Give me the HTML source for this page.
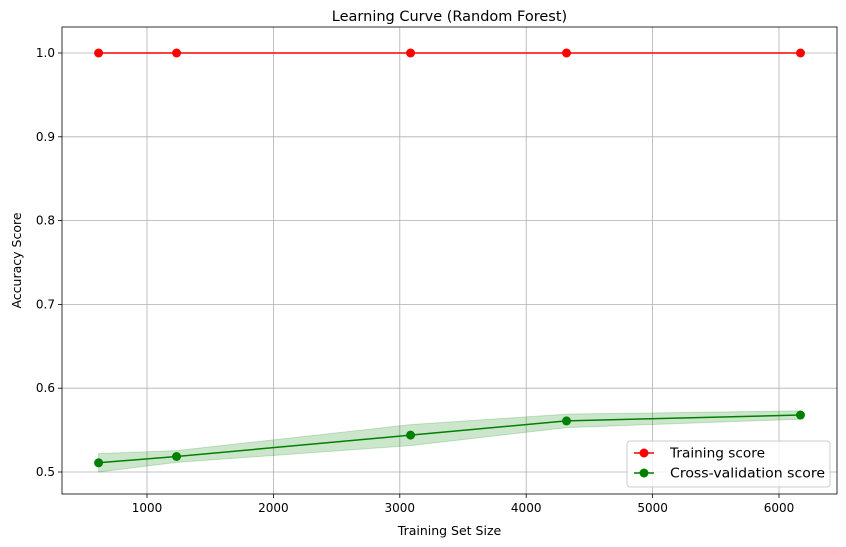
<!DOCTYPE html>
<html><head><meta charset="utf-8"><style>body{margin:0;background:#fff}svg{display:block;font-family:"DejaVu Sans","Liberation Sans",sans-serif}</style></head>
<body>
<svg id="c" width="846" height="547"></svg>
<script>
const sizes=[617,1234,3085,4319,6170];
const trainScores=[1.0,1.0,1.0,1.0,1.0];
const cvScores=[0.511,0.5185,0.544,0.561,0.568];
const cvStd=[0.011,0.007,0.0125,0.008,0.005];
const xTicks=[1000,2000,3000,4000,5000,6000];
const yTicks=[0.5,0.6,0.7,0.8,0.9,1.0];
const L=62,R=837,T=27,B=494;
const X=v=>147+(v-1000)*0.12640;
const Y=v=>472-(v-0.5)*838;
const svg=document.getElementById('c');const NS='http://www.w3.org/2000/svg';
function el(t,a,p){const e=document.createElementNS(NS,t);for(const k in a)e.setAttribute(k,a[k]);(p||svg).appendChild(e);return e;}
el('rect',{x:0,y:0,width:846,height:547,fill:'#fff'});
const grid=el('g',{});


xTicks.forEach(v=>{const x=X(v);el('line',{x1:x,x2:x,y1:T,y2:B,stroke:'#b0b0b0','stroke-width':0.8},grid);
el('line',{x1:x,x2:x,y1:B,y2:B+4,stroke:'#000','stroke-width':0.8});
const t=el('text',{x:x,y:B+18,'text-anchor':'middle','font-size':12});t.textContent=v;

});
yTicks.forEach(v=>{const y=Y(v);el('line',{x1:L,x2:R,y1:y,y2:y,stroke:'#b0b0b0','stroke-width':0.8},grid);
el('line',{x1:L-4,x2:L,y1:y,y2:y,stroke:'#000','stroke-width':0.8});
const t=el('text',{x:L-7,y:y+4,'text-anchor':'end','font-size':12});t.textContent=v.toFixed(1);

});
let up=sizes.map((s,i)=>X(s)+','+Y(cvScores[i]+cvStd[i]));
let lo=sizes.map((s,i)=>X(s)+','+Y(cvScores[i]-cvStd[i])).reverse();
const band=el('polygon',{points:up.concat(lo).join(' '),fill:'green','fill-opacity':0.2,stroke:'green','stroke-opacity':0.2});


function series(vals,col,name){
const pl=el('polyline',{points:sizes.map((s,i)=>X(s)+','+Y(vals[i])).join(' '),fill:'none',stroke:col,'stroke-width':1.5});


sizes.forEach((s,i)=>{const c=el('circle',{cx:X(s),cy:Y(vals[i]),r:4.5,fill:col});

});}
series(trainScores,'red','training-score');
series(cvScores,'green','cv-score');
el('rect',{x:L,y:T,width:R-L,height:B-T,fill:'none',stroke:'#000','stroke-width':0.8});
const tt=el('text',{x:(L+R)/2,y:21,'text-anchor':'middle','font-size':14.5});tt.textContent='Learning Curve (Random Forest)';

const xl=el('text',{x:(L+R)/2,y:535,'text-anchor':'middle','font-size':12.5});xl.textContent='Training Set Size';

const yl=el('text',{x:0,y:0,'text-anchor':'middle','font-size':12.5,transform:'translate(21,'+((T+B)/2)+') rotate(-90)'});yl.textContent='Accuracy Score';

const lg=el('g',{});


el('rect',{x:627,y:441,width:203,height:46,rx:3,fill:'#fff','fill-opacity':0.8,stroke:'#ccc'},lg);
[['red','Training score',453],['green','Cross-validation score',473]].forEach(([c,t,y])=>{
el('line',{x1:634,x2:654,y1:y,y2:y,stroke:c,'stroke-width':1.5},lg);
el('circle',{cx:644,cy:y,r:4.5,fill:c},lg);
const tx=el('text',{x:670,y:y+4.5,'font-size':13,textLength:t.length>15?155:95,lengthAdjust:'spacingAndGlyphs'},lg);tx.textContent=t;
});
</script>
</body></html>
